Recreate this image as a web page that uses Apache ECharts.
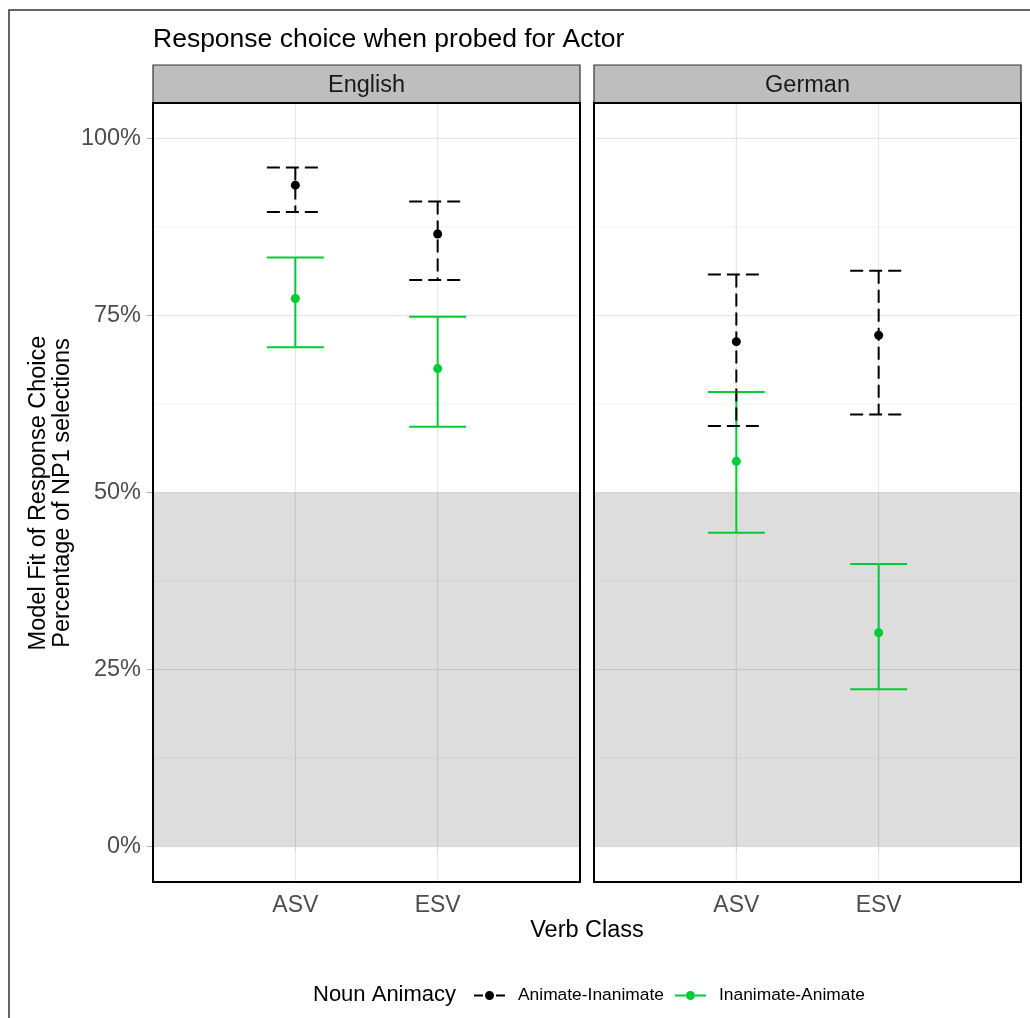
<!DOCTYPE html>
<html><head><meta charset="utf-8">
<script src="https://cdn.jsdelivr.net/npm/echarts@6/dist/echarts.min.js"></script>
<style>html,body{margin:0;padding:0;background:#fff}#c{width:1030px;height:1018px}</style>
</head><body><div id="c"></div>
<script>
// ---- data ----
const panels = ['English', 'German'];
const categories = ['ASV', 'ESV'];
const seriesNames = ['Animate-Inanimate', 'Inanimate-Animate'];
const yTicks = [0, 0.25, 0.5, 0.75, 1];
const yMinor = [0.125, 0.375, 0.625, 0.875];
const shadeRange = [0, 0.5];
// each entry: [mean, lower, upper] for ASV, ESV
const englishAnimInan = [[0.934, 0.896, 0.959], [0.865, 0.800, 0.911]];
const englishInanAnim = [[0.774, 0.705, 0.832], [0.675, 0.593, 0.748]];
const germanAnimInan  = [[0.713, 0.594, 0.808], [0.722, 0.610, 0.813]];
const germanInanAnim  = [[0.544, 0.443, 0.642], [0.302, 0.222, 0.399]];

// ---- styling ----
const FONT = 'Liberation Sans, Arial, sans-serif';
const BLACK = '#000000';
const GREEN = '#00CC33';
const capHalf = 0.2;
const panelData = [[englishAnimInan, englishInanAnim], [germanAnimInan, germanInanAnim]];
const gridBoxes = [
  {left: 153, top: 103, width: 427, height: 779},
  {left: 594, top: 103, width: 427, height: 779}
];

function toItems(arr) { return arr.map((d, i) => [i + 1, d[0], d[1], d[2]]); }

function errRender(color, dash) {
  return function (params, api) {
    const x = api.value(0), lo = api.value(2), hi = api.value(3);
    const style = {stroke: color, lineWidth: 2, lineDash: dash, fill: null};
    const seg = (a, b) => {
      const p1 = api.coord(a), p2 = api.coord(b);
      return {type: 'line', shape: {x1: p1[0], y1: p1[1], x2: p2[0], y2: p2[1]}, style: style};
    };
    return {type: 'group', children: [
      seg([x - capHalf, hi], [x + capHalf, hi]),
      seg([x, hi], [x, lo]),
      seg([x - capHalf, lo], [x + capHalf, lo])
    ]};
  };
}

function bgRender(params, api) {
  const cs = params.coordSys;
  const children = [];
  const hline = (v, color) => {
    const y = api.coord([0, v])[1];
    children.push({type: 'line', shape: {x1: cs.x, y1: y, x2: cs.x + cs.width, y2: y},
      style: {stroke: color, lineWidth: 1}});
  };
  yMinor.forEach(v => hline(v, '#F2F2F2'));
  yTicks.forEach(v => hline(v, '#E3E3E3'));
  categories.forEach((c, i) => {
    const x = api.coord([i + 1, 0])[0];
    children.push({type: 'line', shape: {x1: x, y1: cs.y, x2: x, y2: cs.y + cs.height},
      style: {stroke: '#E3E3E3', lineWidth: 1}});
  });
  const pA = api.coord([0, shadeRange[1]]), pB = api.coord([3, shadeRange[0]]);
  children.push({type: 'rect', shape: {x: pA[0], y: pA[1], width: pB[0] - pA[0], height: pB[1] - pA[1]},
    style: {fill: 'rgba(0,0,0,0.135)'}});
  return {type: 'group', children: children};
}

function borderRender(params, api) {
  const cs = params.coordSys;
  return {type: 'rect', shape: {x: cs.x, y: cs.y, width: cs.width, height: cs.height},
    style: {fill: null, stroke: '#000', lineWidth: 2}};
}

const grid = gridBoxes.map(g => Object.assign({containLabel: false}, g));
const xAxis = panels.map((p, k) => ({
  type: 'value', gridIndex: k, min: 0, max: 3, interval: 1,
  axisLine: {show: false}, splitLine: {show: false},
  axisTick: {show: true, length: 6, lineStyle: {color: '#ABABAB', width: 1}, customValues: [1, 2]},
  axisLabel: {show: true, customValues: [1, 2], margin: 12, fontFamily: FONT, fontSize: 23, color: '#4D4D4D',
    formatter: v => categories[v - 1] || ''}
}));
const yAxis = panels.map((p, k) => ({
  type: 'value', gridIndex: k, min: -0.05, max: 1.05,
  axisLine: {show: false}, splitLine: {show: false},
  axisTick: {show: k === 0, length: 6, lineStyle: {color: '#ABABAB', width: 1}, customValues: yTicks},
  axisLabel: {show: k === 0, customValues: yTicks, margin: 12, fontFamily: FONT, fontSize: 23.5, color: '#4D4D4D',
    formatter: v => Math.round(v * 100) + '%'}
}));

const series = [];
panels.forEach((p, k) => {
  series.push({type: 'custom', xAxisIndex: k, yAxisIndex: k, renderItem: bgRender, data: [[1.5, 0.5]], z: 1, silent: true});
  series.push({type: 'custom', xAxisIndex: k, yAxisIndex: k, renderItem: errRender(GREEN, null),
    data: toItems(panelData[k][1]), z: 3, silent: true});
  series.push({type: 'custom', xAxisIndex: k, yAxisIndex: k, renderItem: errRender(BLACK, [13, 6]),
    data: toItems(panelData[k][0]), z: 4, silent: true});
  series.push({type: 'scatter', name: seriesNames[1], xAxisIndex: k, yAxisIndex: k, symbolSize: 9,
    itemStyle: {color: GREEN, opacity: 1}, data: toItems(panelData[k][1]).map(d => [d[0], d[1]]), z: 5});
  series.push({type: 'scatter', name: seriesNames[0], xAxisIndex: k, yAxisIndex: k, symbolSize: 9,
    itemStyle: {color: BLACK, opacity: 1}, data: toItems(panelData[k][0]).map(d => [d[0], d[1]]), z: 6});
  series.push({type: 'custom', xAxisIndex: k, yAxisIndex: k, renderItem: borderRender, data: [[1.5, 0.5]], z: 7, silent: true});
});

const circle = 'M11,4.5a4.5,4.5 0 1,0 9,0a4.5,4.5 0 1,0 -9,0z';
const iconBlack = 'path://M0,3.5h9v2h-9z M22,3.5h9v2h-9z ' + circle;
const iconGreen = 'path://M0,3.5h11.2v2h-11.2z M19.8,3.5h11.2v2h-11.2z ' + circle;

const graphic = [
  {type: 'rect', shape: {x: 9, y: 10, width: 1100, height: 1100}, style: {fill: null, stroke: '#333', lineWidth: 1.5}, z: 100},
  {type: 'text', x: 153, y: 40, style: {text: 'Response choice when probed for Actor', fontFamily: FONT, fontSize: 26.5, fill: '#000', verticalAlign: 'middle'}},
  {type: 'text', x: 51, y: 493, rotation: Math.PI / 2,
    style: {text: 'Model Fit of Response Choice\nPercentage of NP1 selections', fontFamily: FONT, fontSize: 23.5,
      fill: '#000', align: 'center', verticalAlign: 'middle', lineHeight: 24}},
  {type: 'text', x: 587, y: 931, style: {text: 'Verb Class', fontFamily: FONT, fontSize: 23.5, fill: '#000', align: 'center', verticalAlign: 'middle'}},
  {type: 'text', x: 313, y: 995, style: {text: 'Noun Animacy', fontFamily: FONT, fontSize: 22, fill: '#000', align: 'left', verticalAlign: 'middle'}}
];
gridBoxes.forEach((g, k) => {
  graphic.push({type: 'rect', shape: {x: g.left, y: 65, width: g.width, height: 38},
    style: {fill: '#BEBEBE', stroke: '#333', lineWidth: 1.2}});
  graphic.push({type: 'text', x: g.left + g.width / 2, y: 86,
    style: {text: panels[k], fontFamily: FONT, fontSize: 23.5, fill: '#1A1A1A', align: 'center', verticalAlign: 'middle'}});
});

const option = {
  backgroundColor: '#fff',
  animation: false,
  grid: grid, xAxis: xAxis, yAxis: yAxis, series: series, graphic: graphic,
  legend: {
    left: 469, top: 982, itemWidth: 31, itemHeight: 9, itemGap: 11,
    textStyle: {fontFamily: FONT, fontSize: 17.4, color: '#000', padding: [0, 0, 0, 8]},
    data: [{name: seriesNames[0], icon: iconBlack}, {name: seriesNames[1], icon: iconGreen}],
    selectedMode: false
  }
};
const chart = echarts.init(document.getElementById('c'), null, {renderer: 'canvas'});
chart.setOption(option);
</script>
</body></html>
